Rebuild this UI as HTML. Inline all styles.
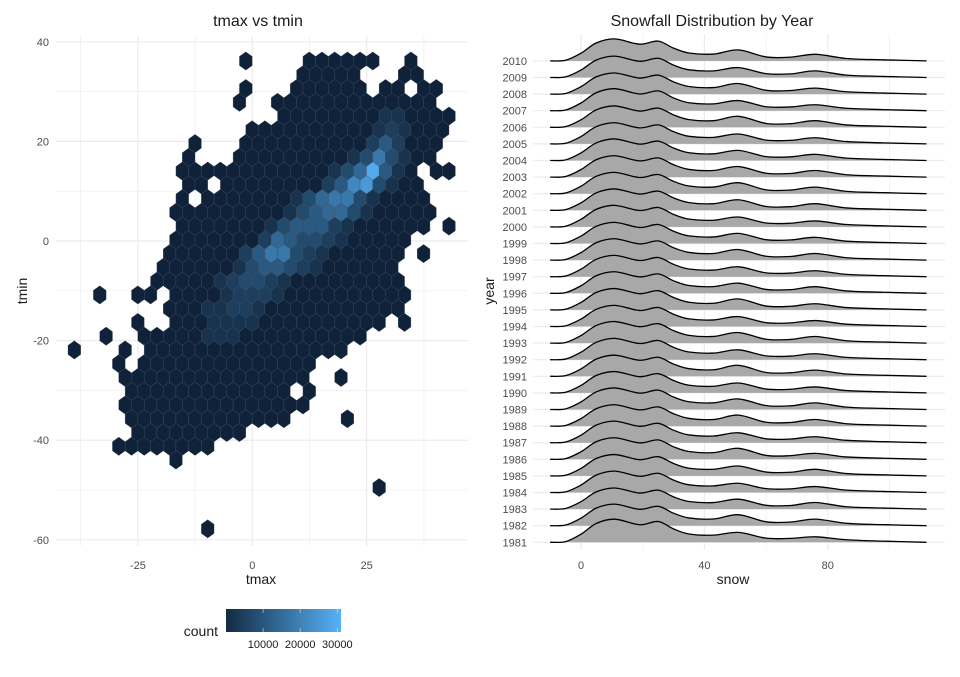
<!DOCTYPE html>
<html><head><meta charset="utf-8"><style>
body{margin:0;background:#fff;font-family:"Liberation Sans",sans-serif;}
svg text{font-family:"Liberation Sans",sans-serif;}
</style></head><body>
<svg id="chart" width="960" height="672" viewBox="0 0 960 672" xmlns="http://www.w3.org/2000/svg">
<rect width="960" height="672" fill="#fff"/>
<g id="left"></g>
<g id="right"></g>
</svg>
<script>
// ---- hexbin data ----
const hexRuns = [
[0,15,15],[0,20,25],[0,28,28],
[1,19,23],[1,27,28],
[2,15,15],[2,19,24],[2,26,27],[2,29,30],
[3,14,14],[3,17,29],
[4,18,31],
[5,15,30],
[6,11,11],[6,15,30],
[7,10,10],[7,14,29],
[8,10,28],[8,30,31],
[9,10,11],[9,13,28],
[10,10,10],[10,12,29],
[11,9,29],
[12,10,29],[12,31,31],
[13,9,27],
[14,9,27],[14,29,29],
[15,8,26],
[16,8,27],
[17,3,3],[17,6,7],[17,9,27],
[18,9,27],
[19,6,6],[19,9,25],[19,27,27],
[20,4,4],[20,7,24],
[21,1,1],[21,5,5],[21,7,22],
[22,5,5],[22,7,20],
[23,5,19],[23,22,22],
[24,6,18],[24,20,20],
[25,5,19],
[26,6,18],[26,23,23],
[27,6,14],
[28,5,12],
[29,9,9],
[31,25,25],
[34,12,12]
];
const hexBright = [
[4,26,1],[4,27,1],
[5,25,1],[5,26,2],[5,27,1],
[6,25,2],[6,26,4],[6,27,2],
[7,23,1],[7,24,3],[7,25,6],[7,26,3],[7,27,1],
[8,22,1],[8,23,3],[8,24,5],[8,25,9],[8,26,4],[8,27,1],
[9,21,2],[9,22,4],[9,23,7],[9,24,8],[9,25,3],[9,26,1],
[10,19,1],[10,20,3],[10,21,5],[10,22,6],[10,23,6],[10,24,3],[10,25,1],
[11,18,1],[11,19,3],[11,20,4],[11,21,5],[11,22,5],[11,23,3],[11,24,1],
[12,17,1],[12,18,3],[12,19,4],[12,20,4],[12,21,4],[12,22,2],[12,23,1],
[13,16,2],[13,17,5],[13,18,4],[13,19,3],[13,20,3],[13,21,2],[13,22,1],
[14,15,2],[14,16,4],[14,17,6],[14,18,6],[14,19,3],[14,20,2],[14,21,1],
[15,14,1],[15,15,3],[15,16,4],[15,17,4],[15,18,3],[15,19,2],[15,20,1],
[16,13,1],[16,14,2],[16,15,3],[16,16,3],[16,17,2],[16,18,1],
[17,13,1],[17,14,2],[17,15,2],[17,16,2],[17,17,1],
[18,12,1],[18,13,1],[18,14,2],[18,15,2],[18,16,1],
[19,12,1],[19,13,1],[19,14,1],[19,15,1],
[20,12,1],[20,13,1],[20,14,1]
];
const xTicks = [-25, 0, 25];
const yTicks = [40, 20, 0, -20, -40, -60];
const legendTicks = [10000, 20000, 30000];

// ---- ridgeline data ----
const years = [1981,1982,1983,1984,1985,1986,1987,1988,1989,1990,1991,1992,1993,1994,1995,1996,1997,1998,1999,2000,2001,2002,2003,2004,2005,2006,2007,2008,2009,2010];
const snowPts = [-10,-5,0,5,11,19,25,30,35,43,51,60,68,76,86,98,112];
const profile = [0,0.03,0.35,0.82,1.0,0.76,0.9,0.58,0.36,0.31,0.48,0.18,0.17,0.27,0.11,0.05,0];
const mainScale = [1.05,0.98,0.96,0.97,0.97,0.98,0.98,0.97,0.98,0.97,0.96,0.97,0.98,0.96,0.97,0.98,0.97,0.97,0.96,0.98,0.97,0.97,0.97,0.98,0.96,0.97,1.0,0.96,0.97,1.0];
const peak51 = [0.45,0.5,0.45,0.42,0.45,0.5,0.45,0.5,0.48,0.45,0.5,0.45,0.48,0.45,0.5,0.46,0.45,0.48,0.46,0.45,0.48,0.5,0.48,0.46,0.45,0.5,0.46,0.48,0.45,0.5];
const peak76 = [0.25,0.3,0.3,0.27,0.3,0.27,0.27,0.3,0.3,0.27,0.28,0.27,0.3,0.27,0.28,0.3,0.27,0.3,0.28,0.27,0.3,0.3,0.3,0.28,0.28,0.3,0.27,0.27,0.3,0.3];
const snowTicks = [0, 40, 80];

const NS = "http://www.w3.org/2000/svg";
function mk(tag, attrs, parent){const e=document.createElementNS(NS,tag);for(const k in attrs)e.setAttribute(k,attrs[k]);parent.appendChild(e);return e;}
const L = document.getElementById('left'), R = document.getElementById('right');

// ---------- left panel ----------
const xS = v => 252.3 + v*4.576;
const yS = v => 241 - v*4.98;
const colToTmax = (c,r) => (55.3 + 12.7*c + (r%2 ? 6.35 : 0) - 252.3)/4.576;
const rowToTmin = r => (241 - (61 + 13.76*r))/4.98;
const gridC = '#ebebeb';
[-37.5,-12.5,12.5,37.5].forEach(v=>{const l=mk('line',{x1:xS(v),x2:xS(v),y1:36,y2:546,stroke:gridC,'stroke-width':0.6},L);
});
[30,10,-10,-30,-50].forEach(v=>{const l=mk('line',{x1:56,x2:468,y1:yS(v),y2:yS(v),stroke:gridC,'stroke-width':0.6},L);
});
xTicks.forEach(v=>{const l=mk('line',{x1:xS(v),x2:xS(v),y1:36,y2:546,stroke:gridC,'stroke-width':1.2},L);

const t=mk('text',{x:xS(v),y:569,'text-anchor':'middle','font-size':11,fill:'#4d4d4d'},L);t.textContent=v;
});
yTicks.forEach(v=>{const l=mk('line',{x1:56,x2:468,y1:yS(v),y2:yS(v),stroke:gridC,'stroke-width':1.2},L);

const t=mk('text',{x:49,y:yS(v)+4,'text-anchor':'end','font-size':11,fill:'#4d4d4d'},L);t.textContent=v;
});

const lo=[0x13,0x2B,0x43], hi=[0x56,0xB1,0xF7];
function col(t){const c=lo.map((a,i)=>Math.round(a+(hi[i]-a)*t));return `rgb(${c[0]},${c[1]},${c[2]})`;}
const bright = {};
hexBright.forEach(b=>{bright[b[0]+'_'+b[1]]=b[2];});
const hw=6.35, hh=9.17;
hexRuns.forEach(run=>{
  const r=run[0];
  for(let c=run[1];c<=run[2];c++){
    const cx=xS(colToTmax(c,r)), cy=yS(rowToTmin(r));
    const lv=bright[r+'_'+c]||0;
    const pts=[[0,-hh],[hw,-hh/2],[hw,hh/2],[0,hh],[-hw,hh/2],[-hw,-hh/2]].map(p=>(cx+p[0]).toFixed(2)+','+(cy+p[1]).toFixed(2)).join(' ');
    const h=mk('polygon',{points:pts,fill:lv?col(Math.pow(lv/9,1.25)*0.95):'#10223a',stroke:'#3d4c5c','stroke-width':0.35},L);
    
    
  }
});
let t;
t=mk('text',{x:258,y:26,'text-anchor':'middle','font-size':16,fill:'#1a1a1a'},L);t.textContent='tmax vs tmin';

t=mk('text',{x:261,y:584,'text-anchor':'middle','font-size':14,fill:'#1a1a1a'},L);t.textContent='tmax';

t=mk('text',{x:0,y:0,'text-anchor':'middle','font-size':14,fill:'#1a1a1a',transform:'translate(27,291) rotate(-90)'},L);t.textContent='tmin';

const defs=mk('defs',{},L);
const lg=mk('linearGradient',{id:'cg',x1:0,x2:1,y1:0,y2:0},defs);
mk('stop',{offset:0,'stop-color':'#132B43'},lg);mk('stop',{offset:1,'stop-color':'#56B1F7'},lg);
const lbar=mk('rect',{x:226,y:609,width:115,height:23,fill:'url(#cg)'},L);

const lx = v => 226 + v/10000*37.1;
legendTicks.forEach(v=>{
  const l=mk('line',{x1:lx(v),x2:lx(v),y1:609,y2:613,stroke:'#fff','stroke-width':0.8,opacity:0.6},L);
  
  const l2=mk('line',{x1:lx(v),x2:lx(v),y1:628,y2:632,stroke:'#fff','stroke-width':0.8,opacity:0.6},L);
  
  const tt=mk('text',{x:lx(v),y:648,'text-anchor':'middle','font-size':11,fill:'#1a1a1a'},L);tt.textContent=v;
  
});
t=mk('text',{x:218,y:636,'text-anchor':'end','font-size':14,fill:'#1a1a1a'},L);t.textContent='count';


// ---------- right panel ----------
const sx = v => 581 + v*3.085;
const yb = yr => 542.3 - (yr-1981)*16.6;
const hScale = 22;
[20,60,100].forEach(v=>{const l=mk('line',{x1:sx(v),x2:sx(v),y1:34,y2:550,stroke:gridC,'stroke-width':0.6},R);
});
snowTicks.forEach(v=>{const l=mk('line',{x1:sx(v),x2:sx(v),y1:34,y2:550,stroke:gridC,'stroke-width':1.2},R);

const tt=mk('text',{x:sx(v),y:569,'text-anchor':'middle','font-size':11,fill:'#4d4d4d'},R);tt.textContent=v;
});
years.forEach(yr=>{const l=mk('line',{x1:533,x2:945,y1:yb(yr),y2:yb(yr),stroke:gridC,'stroke-width':1.2},R);

const tt=mk('text',{x:527,y:yb(yr)+4,'text-anchor':'end','font-size':11,fill:'#4d4d4d'},R);tt.textContent=yr;
});

function curvePath(pts){
  let d='M'+pts[0][0].toFixed(2)+','+pts[0][1].toFixed(2);
  for(let i=0;i<pts.length-1;i++){
    const p0=pts[Math.max(0,i-1)],p1=pts[i],p2=pts[i+1],p3=pts[Math.min(pts.length-1,i+2)];
    const c1=[p1[0]+(p2[0]-p0[0])/6,p1[1]+(p2[1]-p0[1])/6], c2=[p2[0]-(p3[0]-p1[0])/6,p2[1]-(p3[1]-p1[1])/6];
    d+=` C${c1[0].toFixed(2)},${c1[1].toFixed(2)} ${c2[0].toFixed(2)},${c2[1].toFixed(2)} ${p2[0].toFixed(2)},${p2[1].toFixed(2)}`;
  }
  return d;
}
for(let k=years.length-1;k>=0;k--){
  const yr=years[k], base=yb(yr);
  const pts=snowPts.map((s,i)=>{
    let h=profile[i]*mainScale[k];
    if(s===51) h=peak51[k];
    if(s===76) h=peak76[k];
    return [sx(s), base - h*hScale];
  });
  const d=curvePath(pts);
  const f=mk('path',{d:d+` L${sx(snowPts[snowPts.length-1])},${base} L${sx(snowPts[0])},${base} Z`,fill:'#a8a8a8',stroke:'none'},R);
  
  
  const s=mk('path',{d:d,fill:'none',stroke:'#000','stroke-width':1.3},R);
  
  
}
t=mk('text',{x:712,y:26,'text-anchor':'middle','font-size':16,fill:'#1a1a1a'},R);t.textContent='Snowfall Distribution by Year';

t=mk('text',{x:733,y:584,'text-anchor':'middle','font-size':14,fill:'#1a1a1a'},R);t.textContent='snow';

t=mk('text',{x:0,y:0,'text-anchor':'middle','font-size':14,fill:'#1a1a1a',transform:'translate(494,291) rotate(-90)'},R);t.textContent='year';

</script>
</body></html>
